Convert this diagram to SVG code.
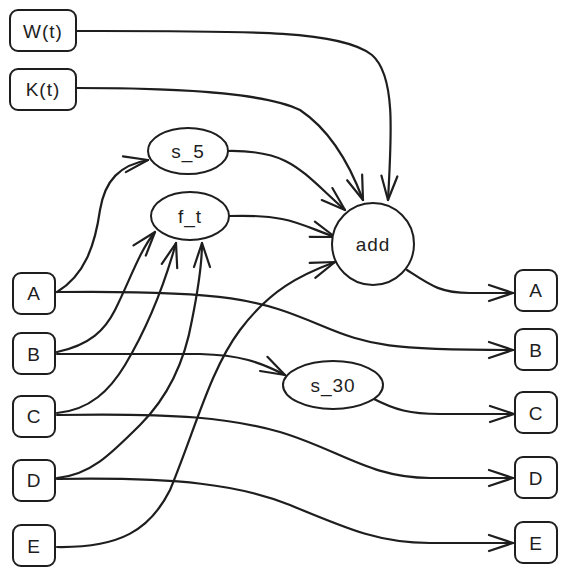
<svg xmlns="http://www.w3.org/2000/svg" width="567" height="577" viewBox="0 0 567 577">
<style>
.n{fill:#fff;stroke:#1e1e1e;stroke-width:2}
.t{font-family:"Liberation Sans","DejaVu Sans",sans-serif;font-size:19px;letter-spacing:1px;fill:#1e1e1e;text-anchor:middle;dominant-baseline:central}
.e{fill:none;stroke:#1e1e1e;stroke-width:2.2;stroke-linecap:round;marker-end:url(#ah)}
</style>
<defs>
<marker id="ah" markerUnits="userSpaceOnUse" viewBox="0 0 28 20" refX="26" refY="10" markerWidth="28" markerHeight="20" orient="auto">
<path d="M2,2 L26,10 L2,18" fill="none" stroke="#1e1e1e" stroke-width="2.2" stroke-linecap="round" stroke-linejoin="round"/>
</marker>
</defs>
<rect width="567" height="577" fill="#fff"/>
<g id="edges">
<path class="e" d="M76,31 C 250,31 340,30 372,55 C 395,75 392,130 388,200"/>
<path class="e" d="M76,88 C 200,88 270,95 300,110 C 330,130 350,165 363,200"/>
<path class="e" d="M228,151 C 290,150 300,170 345,210"/>
<path class="e" d="M229,216 C 290,214 300,225 335,237"/>
<path class="e" d="M407,270 C 430,285 440,293 470,293 L513,293"/>
<path class="e" d="M57,292 C 85,275 95,245 100,210 C 105,180 120,165 148,160"/>
<path class="e" d="M57,292 C 230,290 260,300 320,325 C 370,346 390,350 513,350"/>
<path class="e" d="M57,352 C 90,345 105,330 115,310 C 130,280 140,250 155,232"/>
<path class="e" d="M57,413 C 90,410 110,390 125,365 C 140,340 160,300 176,243"/>
<path class="e" d="M57,478 C 90,475 110,455 140,425 C 170,395 185,360 192,320 C 198,290 202,265 202,243"/>
<path class="e" d="M57,547 C 120,548 150,530 170,490 C 195,430 210,370 240,330 C 270,290 300,275 335,262"/>
<path class="e" d="M57,354 L200,354 C 240,355 260,362 285,375"/>
<path class="e" d="M57,415 C 180,413 230,418 280,432 C 340,450 370,478 430,478 L513,478"/>
<path class="e" d="M57,479 C 180,477 240,485 290,505 C 350,530 380,543 430,543 L513,543"/>
<path class="e" d="M372,398 C 395,410 410,414 440,414 L514,414"/>
</g>
<g id="W"><rect class="n" x="10" y="10" width="66" height="41" rx="8"/><text class="t" x="43" y="31">W(t)</text></g>
<g id="K"><rect class="n" x="10" y="69" width="66" height="41" rx="8"/><text class="t" x="43" y="89">K(t)</text></g>
<g id="s5"><ellipse class="n" cx="188" cy="151" rx="40" ry="23"/><text class="t" x="188" y="151">s_5</text></g>
<g id="ft"><ellipse class="n" cx="190" cy="216" rx="39" ry="24"/><text class="t" x="190" y="216">f_t</text></g>
<g id="add"><circle class="n" cx="373" cy="244" r="41"/><text class="t" x="373" y="244">add</text></g>
<g id="s30"><ellipse class="n" cx="333" cy="385" rx="50" ry="24"/><text class="t" x="333" y="385">s_30</text></g>
<g id="inA"><rect class="n" x="13" y="273" width="42" height="41" rx="8"/><text class="t" x="34" y="293">A</text></g>
<g id="inB"><rect class="n" x="13" y="333" width="42" height="41" rx="8"/><text class="t" x="34" y="354">B</text></g>
<g id="inC"><rect class="n" x="13" y="396" width="42" height="41" rx="8"/><text class="t" x="34" y="416">C</text></g>
<g id="inD"><rect class="n" x="13" y="460" width="42" height="41" rx="8"/><text class="t" x="34" y="480">D</text></g>
<g id="inE"><rect class="n" x="13" y="525" width="42" height="41" rx="8"/><text class="t" x="34" y="546">E</text></g>
<g id="outA"><rect class="n" x="515" y="270" width="42" height="41" rx="8"/><text class="t" x="536" y="290">A</text></g>
<g id="outB"><rect class="n" x="515" y="329" width="42" height="41" rx="8"/><text class="t" x="536" y="350">B</text></g>
<g id="outC"><rect class="n" x="515" y="392" width="42" height="41" rx="8"/><text class="t" x="536" y="413">C</text></g>
<g id="outD"><rect class="n" x="515" y="457" width="42" height="41" rx="8"/><text class="t" x="536" y="478">D</text></g>
<g id="outE"><rect class="n" x="515" y="522" width="42" height="41" rx="8"/><text class="t" x="536" y="543">E</text></g>
</svg>
